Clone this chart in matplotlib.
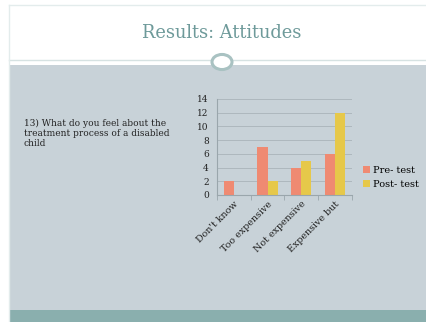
import numpy as np
import matplotlib.pyplot as plt
from matplotlib.patches import Rectangle, Circle

categories = ["Don't know", "Too expensive", "Not expensive", "Expensive but"]
pre_test = [2, 7, 4, 6]
post_test = [0, 2, 5, 12]
yticks = [0, 2, 4, 6, 8, 10, 12, 14]

plt.rcParams['font.family'] = ['DejaVu Serif']

fig = plt.figure(figsize=(4.27, 3.22), dpi=100)
fig.patch.set_facecolor('white')

# slide decoration
fig.patches.append(Rectangle((9/427, 12/322), 418/427, 245/322, transform=fig.transFigure,
                             facecolor='#c8d2d8', edgecolor='none', zorder=-10))
fig.patches.append(Rectangle((9/427, 0), 418/427, 12/322, transform=fig.transFigure,
                             facecolor='#8aafae', edgecolor='none', zorder=-10))
fig.lines.append(plt.Line2D([9/427, 1], [1-60/322, 1-60/322], transform=fig.transFigure,
                            color='#d6e2e2', lw=1, zorder=-5))
fig.lines.append(plt.Line2D([9/427, 1], [1-5/322, 1-5/322], transform=fig.transFigure,
                            color='#e3ecec', lw=1, zorder=-5))
fig.lines.append(plt.Line2D([9/427, 9/427], [0, 1-5/322], transform=fig.transFigure,
                            color='#e3ecec', lw=1, zorder=-5))
fig.patches.append(Circle((222/427, 1-62/322), 10/427, transform=fig.transFigure,
                          facecolor='white', edgecolor='#a9c2c2', lw=2.2, zorder=3))

fig.text(222/427, 1-33/322, 'Results: Attitudes', ha='center', va='center',
         fontsize=12.8, color='#6e9a9a')
fig.text(24/427, 1-119/322, '13) What do you feel about the\ntreatment process of a disabled\nchild',
         ha='left', va='top', fontsize=6.5, color='#222222', linespacing=1.15)

ax = fig.add_axes([217/427, 1-195/322, 135/427, 96/322])
ax.patch.set_alpha(0)
x = np.arange(len(categories))
w = 0.3
ax.bar(x - w/2, pre_test, w, color='#ef8a72', label='Pre- test', zorder=2)
ax.bar(x + w/2, post_test, w, color='#e6c84a', label='Post- test', zorder=2)

ax.set_xlim(-0.5, len(categories) - 0.5)
ax.set_ylim(0, 14)
ax.set_yticks(yticks)
ax.yaxis.grid(True, color='#aab4ba', lw=0.6)
ax.set_axisbelow(True)
for s in ['top', 'right']:
    ax.spines[s].set_visible(False)
ax.spines['left'].set_color('#9aa6ac')
ax.spines['bottom'].set_color('#9aa6ac')
ax.tick_params(axis='y', length=0, labelsize=6.5, pad=6, colors='#222222')
ax.set_xticks(x)
ax.set_xticklabels(categories, rotation=45, ha='right', rotation_mode='anchor', fontsize=6.8,
                   color='#222222')
ax.tick_params(axis='x', length=0, pad=3)
ax.set_xticks(np.arange(-0.5, len(categories)), minor=True)
ax.tick_params(axis='x', which='minor', length=3.5, color='#9aa6ac')

ax.legend(loc='center left', bbox_to_anchor=(1.02, 0.18), frameon=False, fontsize=7,
          handlelength=0.7, handleheight=0.7, handletextpad=0.3, labelspacing=0.5)

fig.savefig('out.png', dpi=100)
